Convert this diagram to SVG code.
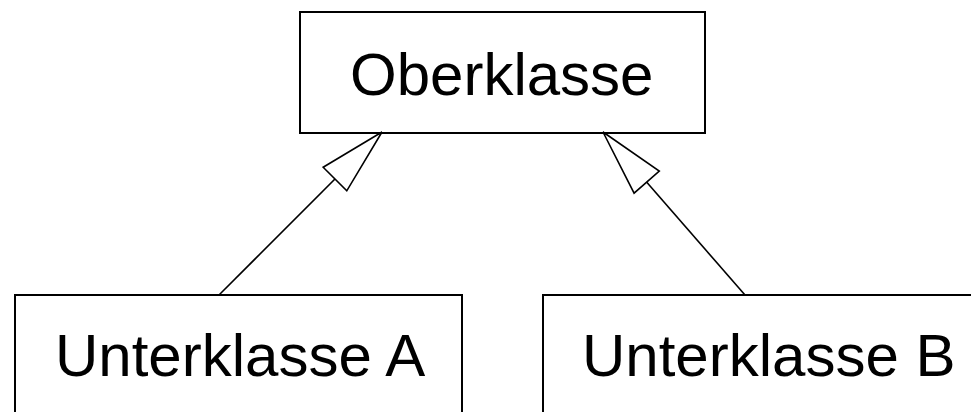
<svg xmlns="http://www.w3.org/2000/svg" width="971" height="412" viewBox="0 0 971 412">
<style>
.box{fill:#fff;stroke:#000;stroke-width:2}
.lbl{font-family:"Liberation Sans",Arial,sans-serif;font-size:60px;fill:#000}
.conn{stroke:#000;stroke-width:1.6;fill:none}
</style>
<defs>
<marker id="inh" markerUnits="userSpaceOnUse" markerWidth="80" markerHeight="40" viewBox="0 0 80 40" refX="70" refY="20" orient="auto" overflow="visible">
<path d="M70,20 L3.5,3.3 L3.5,36.7 Z" fill="#fff" stroke="#000" stroke-width="1.6" stroke-linejoin="miter"/>
</marker>
</defs>
<rect width="971" height="412" fill="#fff"/>
<g id="oberklasse">
<rect class="box" x="300" y="12" width="405" height="121"/>
<text class="lbl" x="350" y="95">Oberklasse</text>
</g>
<g id="unterklasseA">
<rect class="box" x="15" y="295" width="447" height="130"/>
<text class="lbl" x="55" y="376">Unterklasse A</text>
</g>
<g id="unterklasseB">
<rect class="box" x="543" y="295" width="440" height="130"/>
<text class="lbl" x="582" y="376">Unterklasse B</text>
</g>
<g id="connectors">
<line class="conn" x1="219" y1="295" x2="382" y2="132" marker-end="url(#inh)"/>
<line class="conn" x1="745" y1="295" x2="603" y2="132" marker-end="url(#inh)"/>
</g>
</svg>
